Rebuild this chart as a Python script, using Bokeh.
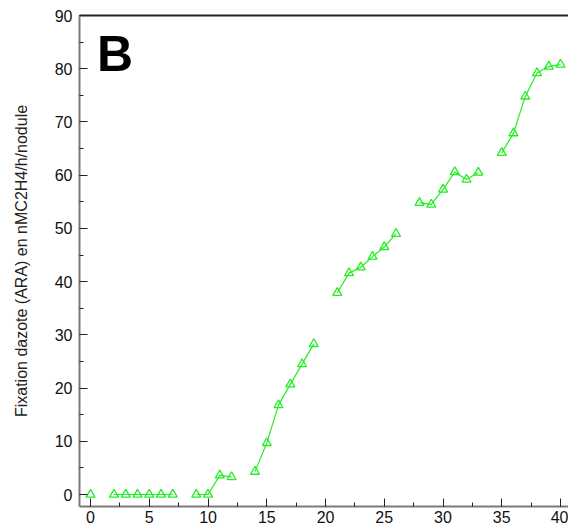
import numpy as np
from bokeh.plotting import figure
from bokeh.models import Range1d, LinearAxis, SingleIntervalTicker, Label, FixedTicker
from bokeh.embed import file_html
from bokeh.resources import INLINE

# Days after inoculation and nitrogenase activity (ARA); NaN marks days without a measurement
days = list(range(0, 41))
ara = [0.0, np.nan, 0.0, 0.0, 0.0, 0.0, 0.0, 0.0, np.nan, 0.0,
       0.0, 3.6, 3.3, np.nan, 4.3, 9.7, 16.8, 20.7, 24.5, 28.3,
       np.nan, 37.9, 41.6, 42.7, 44.7, 46.5, 49.0, np.nan, 54.8, 54.5,
       57.3, 60.6, 59.2, 60.5, np.nan, 64.2, 67.9, 74.8, 79.2, 80.4,
       80.8]
y_label = "Fixation dazote (ARA) en nMC2H4/h/nodule"
panel_tag = "B"

FONT = "Liberation Sans"
AXIS_GREY = "#7a7a7a"
GREEN = "#22ee22"

p = figure(width=568, height=528, output_backend="svg", toolbar_location=None,
           x_range=Range1d(-0.94, 40.68), y_range=Range1d(-2.25, 90),
           min_border_left=79, min_border_right=0, min_border_top=15,
           min_border_bottom=22, x_axis_location=None, y_axis_location=None)
p.outline_line_color = None
p.xgrid.visible = False
p.ygrid.visible = False
p.background_fill_color = "white"
p.border_fill_color = "white"

xax = LinearAxis(ticker=SingleIntervalTicker(interval=5, num_minor_ticks=2))
yax = LinearAxis(ticker=SingleIntervalTicker(interval=10, num_minor_ticks=2),
                 axis_label=y_label)
for ax in (xax, yax):
    ax.axis_line_color = AXIS_GREY
    ax.axis_line_width = 2
    ax.major_tick_line_color = "#222222"
    ax.minor_tick_line_color = "#222222"
    ax.major_tick_in = 8
    ax.major_tick_out = 0
    ax.minor_tick_in = 4
    ax.minor_tick_out = 0
    ax.major_label_text_font = FONT
    ax.major_label_text_font_size = "16px"
    ax.major_label_text_color = "#111111"
xax.major_label_standoff = 4
yax.major_label_standoff = 7
yax.axis_label_text_font = FONT
yax.axis_label_text_font_size = "16px"
yax.axis_label_text_font_style = "normal"
yax.axis_label_text_color = "#222222"
yax.axis_label_standoff = 22
p.add_layout(xax, "below")
p.add_layout(yax, "left")

# plain top border line
top = LinearAxis(ticker=FixedTicker(ticks=[]), major_label_text_font_size="0px",
                 axis_line_color="#222222", axis_line_width=2,
                 major_tick_in=0, major_tick_out=0, minor_tick_in=0, minor_tick_out=0,
                 major_label_standoff=0)
p.add_layout(top, "above")

p.line(days, ara, line_color=GREEN, line_width=1.2)
p.scatter(days, ara, marker="triangle", size=9, fill_color=None,
          line_color=GREEN, line_width=1.3)

# panel letter in the upper-left corner of the plot area
p.add_layout(Label(x=0.55, y=82.7, text=panel_tag,
                   text_font=FONT, text_font_size="50px", text_font_style="bold",
                   text_color="black", text_baseline="alphabetic"))

open("out.html", "w").write(file_html(p, INLINE))
